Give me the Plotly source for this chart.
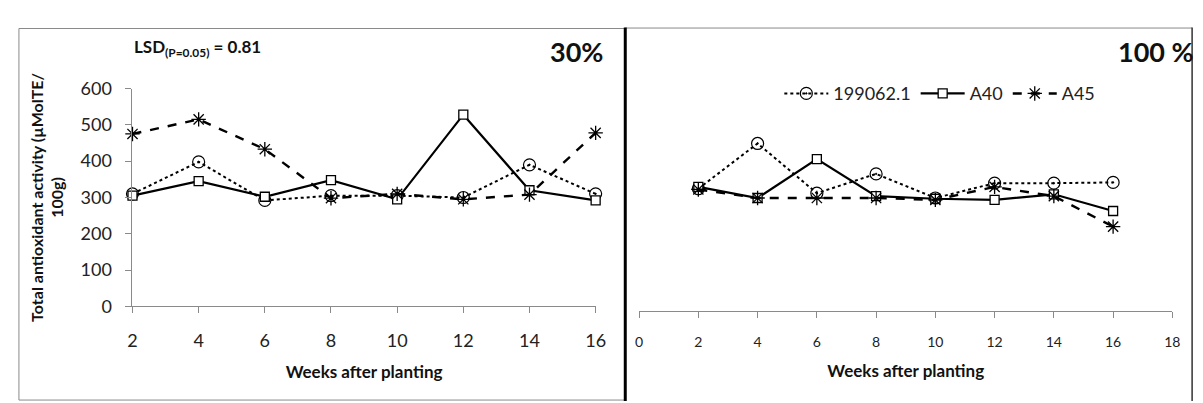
import plotly.graph_objects as go

W, H = 1203, 403

weeks = [2, 4, 6, 8, 10, 12, 14, 16]
series_names = ["199062.1", "A40", "A45"]

# 30% panel
v30_199062 = [310, 398, 292, 305, 305, 300, 390, 310]
v30_a40 = [305, 345, 302, 348, 295, 528, 320, 292]
v30_a45 = [475, 515, 433, 298, 310, 295, 308, 478]

# 100% panel
v100_199062 = [330, 452, 318, 370, 305, 345, 345, 347]
v100_a40 = [335, 305, 410, 310, 303, 300, 315, 270]
v100_a45 = [328, 305, 305, 305, 300, 335, 310, 228]

y_ticks = [0, 100, 200, 300, 400, 500, 600]
x_ticks_left = [2, 4, 6, 8, 10, 12, 14, 16]
x_ticks_right = [0, 2, 4, 6, 8, 10, 12, 14, 16, 18]

FONT = "Lato, 'Open Sans', sans-serif"

styles = [
    dict(line=dict(color="black", width=2, dash="dot"),
         marker=dict(symbol="circle-open-dot", size=12, color="black", line=dict(width=1.2))),
    dict(line=dict(color="black", width=2.2, dash="solid"),
         marker=dict(symbol="square", size=9, color="white", line=dict(color="black", width=1.3))),
    dict(line=dict(color="black", width=2.4, dash="dash"),
         marker=dict(symbol="asterisk-open", size=12, color="black", line=dict(color="black", width=1.3))),
]

fig = go.Figure()
for name, vals, st in zip(series_names, [v30_199062, v30_a40, v30_a45], styles):
    fig.add_trace(go.Scatter(x=weeks, y=vals, name=name, mode="lines+markers",
                             xaxis="x", yaxis="y", showlegend=False, cliponaxis=False, **st))
for name, vals, st in zip(series_names, [v100_199062, v100_a40, v100_a45], styles):
    fig.add_trace(go.Scatter(x=weeks, y=vals, name=name, mode="lines+markers",
                             xaxis="x2", yaxis="y2", showlegend=True, cliponaxis=False, **st))

def px_x(p):
    return p / W

def px_y(p):
    return (H - p) / H

axis_common = dict(showgrid=False, zeroline=False, showline=True, linecolor="#8a8a8a",
                   linewidth=1, ticks="outside", ticklen=6, tickcolor="#8a8a8a")

fig.update_layout(
    width=W, height=H,
    margin=dict(l=0, r=0, t=0, b=0),
    paper_bgcolor="white", plot_bgcolor="white",
    font=dict(family=FONT, color="#111"),
    xaxis=dict(domain=[px_x(121), px_x(590)], range=[2, 16], tickvals=x_ticks_left,
               anchor="y", ticklabelstandoff=12,
               tickfont=dict(family=FONT, size=18, color="#222"),
               title=dict(text="<b>Weeks after planting</b>", font=dict(family=FONT, size=17, color="#111"),
                          standoff=16),
               **axis_common),
    yaxis=dict(domain=[px_y(303), px_y(72.5)], range=[0, 600], tickvals=y_ticks, anchor="x",
               ticklabelstandoff=10,
               tickfont=dict(family=FONT, size=18, color="#222"),
               title=dict(text="<b>Total antioxidant activity (µMolTE/<br>100g)</b>",
                          font=dict(family=FONT, size=16, color="#111"), standoff=12),
               **axis_common),
    xaxis2=dict(domain=[px_x(634), px_x(1174)], range=[0, 18], tickvals=x_ticks_right,
                anchor="y2", ticklabelstandoff=12,
                tickfont=dict(family=FONT, size=14, color="#222"),
                title=dict(text="<b>Weeks after planting</b>", font=dict(family=FONT, size=17, color="#111"),
                           standoff=16),
                **axis_common),
    yaxis2=dict(domain=[px_y(308), px_y(72.5)], range=[0, 600], anchor="x2", visible=False),
    legend=dict(orientation="h", x=px_x(776), y=px_y(78), xanchor="left", yanchor="middle",
                font=dict(family=FONT, size=18, color="#222"), bgcolor="rgba(0,0,0,0)",
                itemwidth=44, tracegroupgap=0),
    showlegend=True,
)

shapes = [
    dict(type="rect", xref="paper", yref="paper", x0=px_x(6), x1=px_x(620), y0=px_y(402), y1=px_y(9),
         line=dict(color="#8a8a8a", width=1)),
    dict(type="line", xref="paper", yref="paper", x0=px_x(620), x1=px_x(1194), y0=px_y(8.5), y1=px_y(8.5),
         line=dict(color="#8a8a8a", width=1)),
    dict(type="line", xref="paper", yref="paper", x0=px_x(1194), x1=px_x(1194), y0=px_y(403), y1=px_y(8),
         line=dict(color="#333", width=1.5)),
    dict(type="line", xref="paper", yref="paper", x0=px_x(620), x1=px_x(620), y0=px_y(403), y1=px_y(8),
         line=dict(color="black", width=3)),
]
fig.update_layout(shapes=shapes)

annotations = [
    dict(text="<b>30%</b>", xref="paper", yref="paper", x=px_x(599), y=px_y(33),
         xanchor="right", yanchor="middle", showarrow=False,
         font=dict(family=FONT, size=27, color="#111")),
    dict(text="<b>100 %</b>", xref="paper", yref="paper", x=px_x(1198), y=px_y(33),
         xanchor="right", yanchor="middle", showarrow=False,
         font=dict(family=FONT, size=27, color="#111")),
    dict(text="<b>LSD<sub>(P=0.05)</sub> = 0.81</b>", xref="paper", yref="paper", x=px_x(120), y=px_y(30),
         xanchor="left", yanchor="middle", showarrow=False,
         font=dict(family=FONT, size=17, color="#111")),
]
fig.update_layout(annotations=annotations)

fig.write_html("out.html")
